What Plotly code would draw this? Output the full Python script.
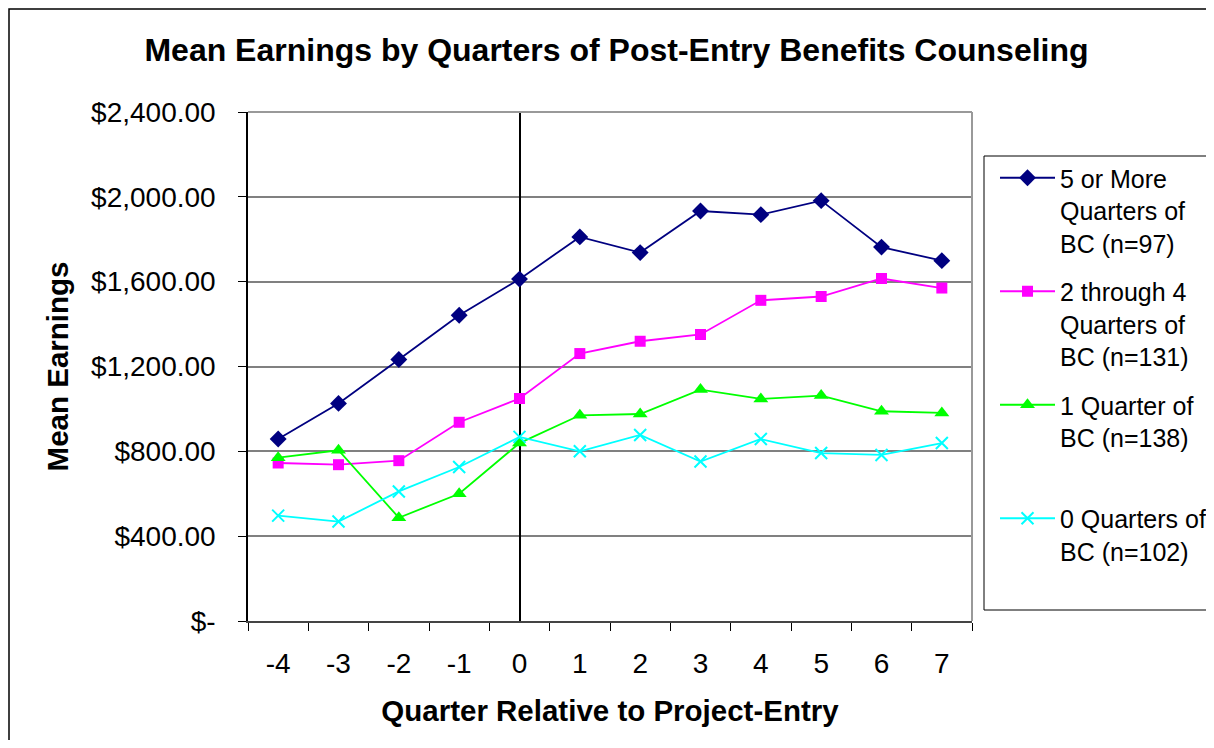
import plotly.graph_objects as go

quarters = [-4, -3, -2, -1, 0, 1, 2, 3, 4, 5, 6, 7]
quarter_labels = ["-4", "-3", "-2", "-1", "0", "1", "2", "3", "4", "5", "6", "7"]

five_plus = [858, 1026, 1233, 1442, 1612, 1811, 1737, 1933, 1916, 1982, 1763, 1699]
two_to_four = [745, 737, 756, 937, 1049, 1261, 1319, 1351, 1512, 1530, 1615, 1570]
one_quarter = [770, 805, 487, 600, 839, 970, 976, 1091, 1047, 1063, 989, 981]
zero_quarters = [497, 469, 611, 726, 868, 800, 877, 752, 858, 792, 783, 839]

series_names = [
    "5 or More<br>Quarters of<br>BC (n=97)",
    "2 through 4<br>Quarters of<br>BC (n=131)",
    "1 Quarter of<br>BC (n=138)<br> ",
    "0 Quarters of<br>BC (n=102)",
]

y_tickvals = [0, 400, 800, 1200, 1600, 2000, 2400]
y_ticktext = ["$-", "$400.00", "$800.00", "$1,200.00", "$1,600.00", "$2,000.00", "$2,400.00"]

FONT = "Liberation Sans, Arial, sans-serif"

fig = go.Figure()
styles = [
    (five_plus, "#000080", "diamond", 13),
    (two_to_four, "#FF00FF", "square", 11),
    (one_quarter, "#00FF00", "triangle-up", 13),
    (zero_quarters, "#00FFFF", "x-thin-open", 12),
]
for i, ((vals, color, sym, size), name) in enumerate(zip(styles, series_names)):
    marker = dict(color=color, symbol=sym, size=size)
    if sym == "x-thin-open":
        marker["line"] = dict(color=color, width=2)
    fig.add_trace(go.Scatter(
        x=quarters, y=vals, mode="lines+markers", name=name,
        legendgroup=f"g{i}",
        line=dict(color=color, width=1.8),
        marker=marker,
    ))

OFF = 8  # page body margin
W, H = 1198, 732
# page-pixel positions of plot area
PL, PR, PT, PB = 248, 972, 112, 621
L, R, T, B = PL - OFF, PR - OFF, PT - OFF, PB - OFF
pw, ph = R - L, B - T

def px(x):  # page x -> paper
    return (x - OFF - L) / pw

def py(y):  # page y -> paper
    return (B - (y - OFF)) / ph

fig.update_layout(
    width=W, height=H,
    margin=dict(l=L, r=W - R, t=T, b=H - B, autoexpand=False),
    paper_bgcolor="white", plot_bgcolor="white",
    font=dict(family=FONT, color="black"),
    title=dict(
        text="<b>Mean Earnings by Quarters of Post-Entry Benefits Counseling</b>",
        font=dict(size=32, family=FONT, color="black"),
        x=(616.5 - OFF) / W, xanchor="center", xref="container",
        y=1 - (50 - OFF) / H, yanchor="middle", yref="container",
    ),
    xaxis=dict(
        range=[-4.5, 7.5], tickvals=quarters, ticktext=quarter_labels,
        ticks="", showgrid=False,
        zeroline=True, zerolinecolor="black", zerolinewidth=1.5,
        showline=True, linecolor="#444444", linewidth=2, mirror=False,
        tickfont=dict(size=28, family=FONT),
        ticklabelstandoff=16,
        minor=dict(tick0=-4.5, dtick=1, ticks="outside", ticklen=8, tickcolor="black", tickwidth=1, showgrid=False),
        title=dict(text="<b>Quarter Relative to Project-Entry</b>", font=dict(size=29.5, family=FONT), standoff=23),
        fixedrange=True,
    ),
    yaxis=dict(
        range=[0, 2400], tickvals=y_tickvals, ticktext=y_ticktext,
        ticks="outside", ticklen=8, tickcolor="black", tickwidth=1,
        showgrid=True, gridcolor="#808080", gridwidth=1.5,
        zeroline=False,
        showline=True, linecolor="black", linewidth=1.5,
        tickfont=dict(size=28, family=FONT),
        ticklabelstandoff=17,
        title=dict(text="<b>Mean Earnings</b>", font=dict(size=29.5, family=FONT), standoff=14),
        fixedrange=True,
    ),
    legend=dict(
        x=px(995), xanchor="left", y=py(155), yanchor="top",
        font=dict(size=25, family=FONT, color="black"),
        bgcolor="rgba(0,0,0,0)", borderwidth=0,
        valign="top", tracegroupgap=13, itemwidth=55,
    ),
    showlegend=True,
)

# plot area border (top and right, gray)
fig.add_shape(type="line", xref="paper", yref="paper", x0=0, x1=1, y0=1, y1=1,
              line=dict(color="#999999", width=2))
fig.add_shape(type="line", xref="paper", yref="paper", x0=1, x1=1, y0=0, y1=1,
              line=dict(color="#999999", width=2))
# legend box
fig.add_shape(type="rect", xref="paper", yref="paper",
              x0=px(984), x1=px(1240), y0=py(610), y1=py(156),
              line=dict(color="black", width=1))
# outer chart border
fig.add_shape(type="rect", xref="paper", yref="paper",
              x0=px(9), x1=px(1250), y0=py(780), y1=py(9),
              line=dict(color="black", width=1.5))

fig.write_html("out.html")
